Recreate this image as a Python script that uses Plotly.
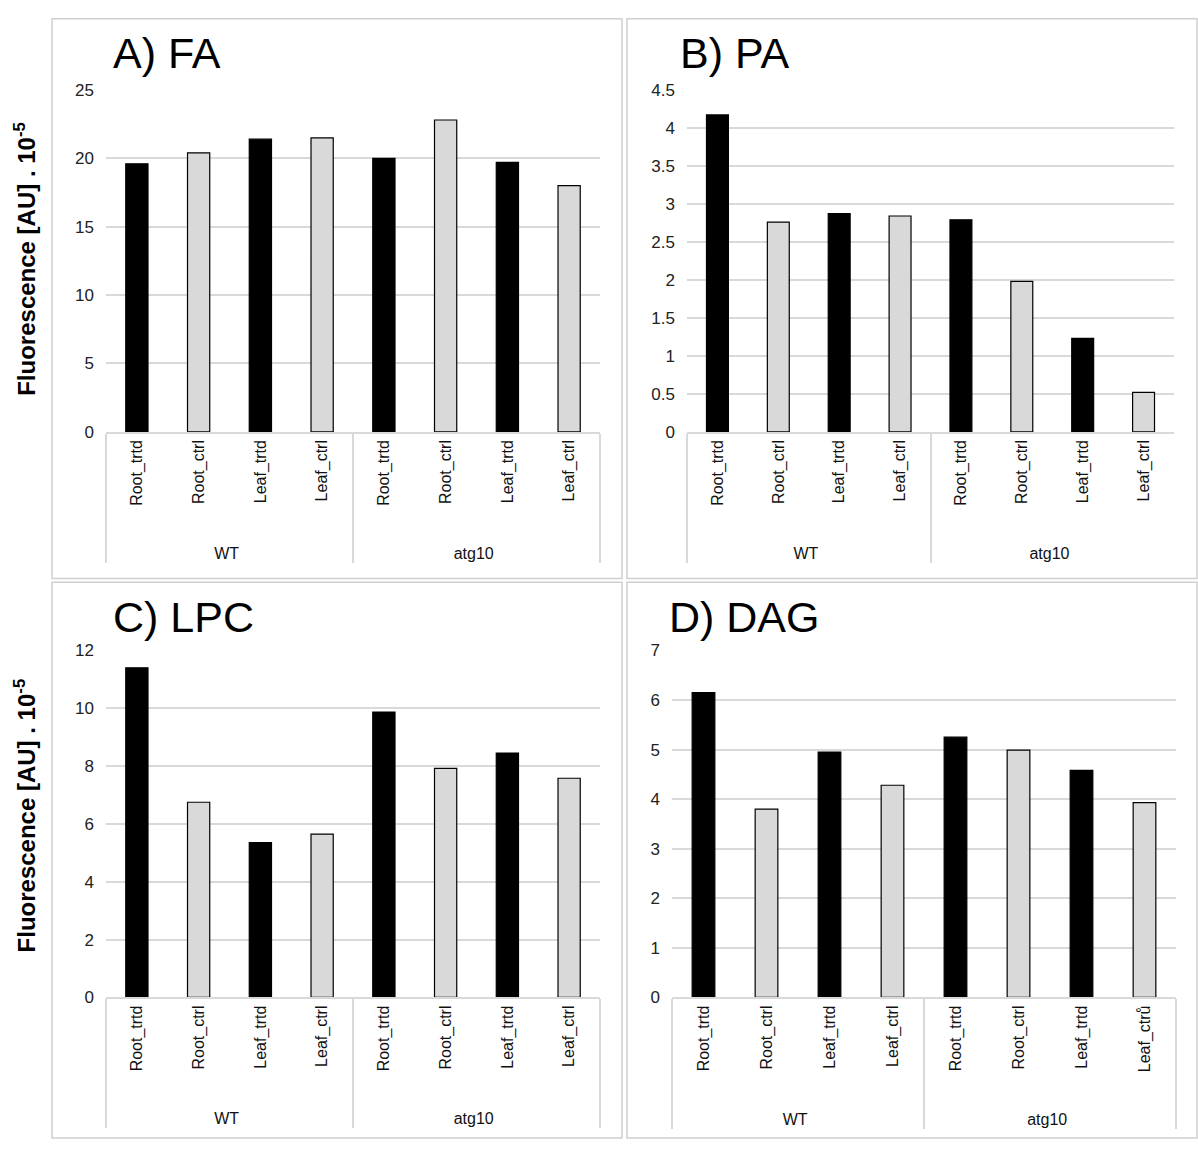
import plotly.graph_objects as go

groups = ["WT"] * 4 + ["atg10"] * 4
samples = ["Root_trtd", "Root_ctrl", "Leaf_trtd", "Leaf_ctrl"] * 2
samples_dag = ["Root_trtd", "Root_ctrl", "Leaf_trtd", "Leaf_ctrl",
               "Root_trtd", "Root_ctrl", "Leaf_trtd", "Leaf_ctrů"]

fa_values = [19.6, 20.4, 21.4, 21.5, 20.0, 22.8, 19.7, 18.0]
pa_values = [4.17, 2.76, 2.87, 2.84, 2.79, 1.98, 1.23, 0.52]
lpc_values = [11.4, 6.75, 5.35, 5.65, 9.87, 7.92, 8.45, 7.58]
dag_values = [6.15, 3.80, 4.95, 4.28, 5.25, 4.99, 4.58, 3.93]

panel_titles = ["A) FA", "B) PA", "C) LPC", "D) DAG"]
y_ranges = [(0, 25, 5), (0, 4.5, 0.5), (0, 12, 2), (0, 7, 1)]
y_title = "Fluorescence [AU] . 10<sup>-5</sup>"

BLACK = "#000000"
GRAY = "#d9d9d9"
bar_colors = [BLACK, GRAY] * 4
FONT = "Liberation Sans, Arial, Helvetica, sans-serif"
PAD = "\u00a0" * 5  # extra room below rotated labels (pushes group labels down)

W, H = 1198, 1149

def px_x(v):
    return v / W

def px_y(v):
    return 1 - v / H

# plot area domains (pixel based)
domains = [
    ((106, 600), (430, 82)),
    ((687, 1174), (430, 82)),
    ((106, 600), (1005, 652)),
    ((672, 1176), (1005, 652)),
]
panel_boxes = [
    (52, 10, 622, 579),
    (627, 10, 1197, 579),
    (52, 583, 622, 1148),
    (627, 583, 1197, 1148),
]
title_pos = [(111, 45), (678, 45), (111, 618), (667, 618)]

data_sets = [
    (samples, fa_values),
    (samples, pa_values),
    (samples, lpc_values),
    (samples_dag, dag_values),
]

fig = go.Figure()
layout = {}
annotations = []
shapes = []

for i, ((cats, vals), (dx, dy), (r0, r1, dt)) in enumerate(zip(data_sets, domains, y_ranges)):
    n = "" if i == 0 else str(i + 1)
    fig.add_trace(go.Bar(
        x=[groups, [PAD + c for c in cats]], y=vals,
        marker=dict(color=bar_colors, line=dict(color="#000000", width=1.2)),
        xaxis="x" + n, yaxis="y" + n, showlegend=False,
    ))
    layout["xaxis" + n] = dict(
        domain=[px_x(dx[0]), px_x(dx[1])], anchor="y" + n,
        type="multicategory", tickangle=-90,
        showline=True, linecolor="#d9d9d9", linewidth=1.5,
        showgrid=False, ticks="",
        showdividers=True, dividercolor="#d9d9d9", dividerwidth=1.5,
        tickfont=dict(family=FONT, size=16, color="#111111"),
    )
    layout["yaxis" + n] = dict(
        domain=[px_y(dy[0]), px_y(dy[1])], anchor="x" + n,
        range=[r0, r1 + dt * 0.004], dtick=dt, tick0=0,
        showgrid=True, gridcolor="#d9d9d9", gridwidth=1.5,
        zeroline=False, showline=False, ticks="",
        ticklabelstandoff=11,
        tickfont=dict(family=FONT, size=17, color="#222222"),
    )
    x0, y0, x1, y1 = panel_boxes[i]
    shapes.append(dict(type="rect", xref="paper", yref="paper",
                       x0=px_x(x0), x1=px_x(x1), y0=px_y(y1), y1=px_y(y0),
                       line=dict(color="#d0d0d0", width=1.5), layer="below"))
    tx, ty = title_pos[i]
    annotations.append(dict(text=panel_titles[i], xref="paper", yref="paper",
                            x=px_x(tx), y=px_y(ty), xanchor="left", yanchor="middle",
                            showarrow=False,
                            font=dict(family=FONT, size=43, color="#000000")))

for yc in (254, 820):
    annotations.append(dict(text="<b>" + y_title + "</b>", xref="paper", yref="paper",
                            x=px_x(25), y=px_y(yc), xanchor="center", yanchor="middle",
                            textangle=-90, showarrow=False,
                            font=dict(family=FONT, size=24, color="#000000")))

fig.update_layout(
    **layout,
    width=W, height=H,
    margin=dict(l=0, r=0, t=0, b=0),
    paper_bgcolor="white", plot_bgcolor="white",
    bargap=0.64,
    annotations=annotations, shapes=shapes,
    font=dict(family=FONT),
)

fig.write_html("out.html", config={"displayModeBar": False},
               post_script="document.body.style.margin='0px';document.body.style.overflow='hidden';")
